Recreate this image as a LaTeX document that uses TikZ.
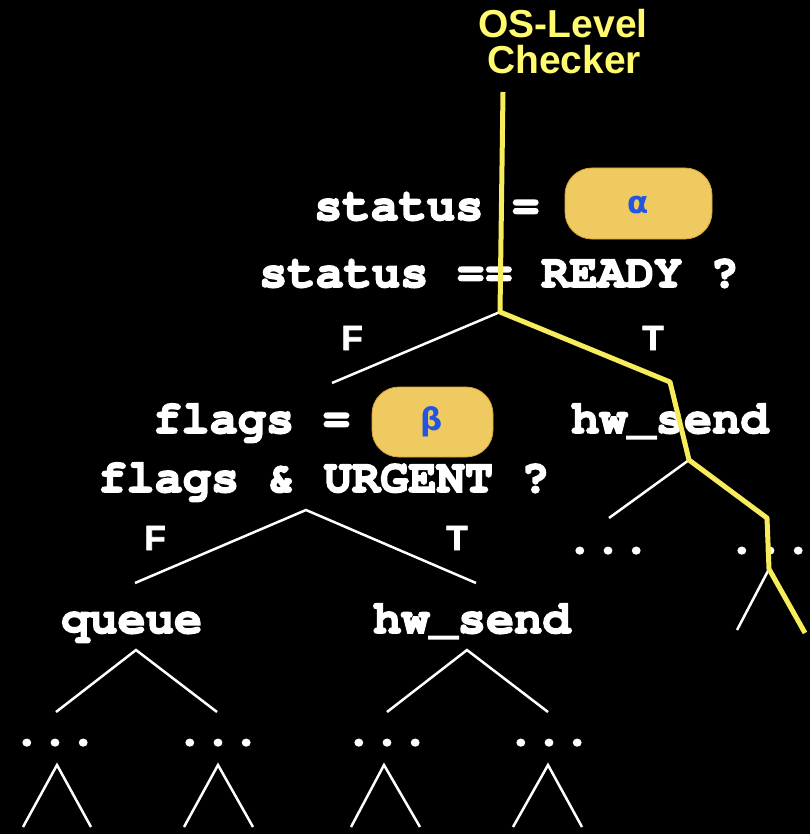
\documentclass[tikz,border=0pt]{standalone}
\usepackage[T1]{fontenc}
\usepackage{fontspec}
\newfontfamily\labfont{Liberation Sans}
\newfontfamily\greekfont{DejaVu Sans}
\newcommand\codefont{\fontencoding{T1}\fontfamily{pcr}\fontseries{b}\fontshape{n}\fontsize{47}{47}\selectfont}
\newcommand\heavy[2][1.6]{\special{pdf:literal direct 2 Tr #1 w}#2\special{pdf:literal direct 0 Tr}}
\definecolor{pillgold}{RGB}{238,202,96}
\definecolor{pilledge}{RGB}{215,165,55}
\definecolor{greekblue}{RGB}{35,85,225}
\definecolor{chkyellow}{RGB}{246,236,92}
\definecolor{chktext}{RGB}{255,250,110}
\tikzset{
  code/.style={text=white, font=\codefont, inner sep=0pt, anchor=base west},
  dotsnode/.style={text=white, font=\codefont, inner sep=0pt, anchor=base},
  lab/.style={text=white, font=\labfont\bfseries\fontsize{35}{35}\selectfont, inner sep=0pt},
  chk/.style={text=chktext, font=\labfont\bfseries\fontsize{39}{39}\selectfont, inner sep=0pt, anchor=base},
  pill/.style={fill=pillgold, draw=pilledge, line width=0.8pt, rounded corners=27pt, inner sep=0pt},
  greek/.style={text=greekblue, font=\greekfont\bfseries\fontsize{31}{31}\selectfont, inner sep=0pt},
  wline/.style={draw=white, line width=2.5pt},
  yline/.style={draw=chkyellow, line width=5pt, line join=round},
}
\begin{document}
\begin{tikzpicture}[x=1pt,y=-1pt]
\fill[black] (0,0) rectangle (810,834);
\useasboundingbox (0,0) rectangle (810,834);

% title of checker
\node[chk] (chk1) at (563,38) {OS-Level};
\node[chk] (chk2) at (564,74) {Checker};

% pills
\node[pill, minimum width=147pt, minimum height=71pt] (palpha) at (638.5,203.5) {};
\node[greek] (alpha) at (638,205) {α};
\node[pill, minimum width=121pt, minimum height=70pt] (pbeta) at (432.5,422) {};
\node[greek] (beta) at (432,422) {β};

% code texts
\node[code] (s1) at (314,220) {\heavy{status =}};
\node[code] (s2) at (259,287) {\heavy{status == READY ?}};
\node[code] (f1) at (153,433) {\heavy{flags =}};
\node[code] (f2) at (98,492) {\heavy{flags \& URGENT ?}};
\node[code] (hw1) at (571,433) {\heavy{hw\_send}};
\node[code] (qu) at (61,633) {\heavy{queue}};
\node[code] (hw2) at (373,633) {\heavy{hw\_send}};

% dots
\node[dotsnode] (d1) at (608,553) {\heavy{...}};
\node[dotsnode] (d2) at (770,553) {\heavy{...}};
\node[dotsnode] (d3) at (55,745) {\heavy{...}};
\node[dotsnode] (d4) at (218,745) {\heavy{...}};
\node[dotsnode] (d5) at (387,745) {\heavy{...}};
\node[dotsnode] (d6) at (549,745) {\heavy{...}};

% F / T labels
\node[lab] (F1) at (352,338) {\heavy[0.8]{F}};
\node[lab] (T1) at (653,338) {\heavy[0.8]{T}};
\node[lab] (F2) at (155,538) {\heavy[0.8]{F}};
\node[lab] (T2) at (457,538) {\heavy[0.8]{T}};

% tree coordinates
\coordinate (root) at (500,312);
\coordinate (rootF) at (332,383);
\coordinate (fb) at (306,510);
\coordinate (fbF) at (135,583);
\coordinate (fbT) at (476,583);
\coordinate (hwr) at (689,460);
\coordinate (hwrL) at (609,518);
\coordinate (lr) at (769,569);
\coordinate (lrL) at (737,630);
\coordinate (qa) at (136,650);
\coordinate (qaL) at (56,712);
\coordinate (qaR) at (217,712);
\coordinate (ha) at (467,650);
\coordinate (haL) at (387,712);
\coordinate (haR) at (548,712);
\coordinate (c1) at (57,765);  \coordinate (c1L) at (23,827);  \coordinate (c1R) at (91,827);
\coordinate (c2) at (218,765); \coordinate (c2L) at (184,827); \coordinate (c2R) at (253,827);
\coordinate (c3) at (384,765); \coordinate (c3L) at (351,827); \coordinate (c3R) at (420,827);
\coordinate (c4) at (548,765); \coordinate (c4L) at (513,827); \coordinate (c4R) at (582,827);

% white tree lines
\draw[wline] (root) -- (rootF);
\draw[wline] (fbF) -- (fb) -- (fbT);
\draw[wline] (hwr) -- (hwrL);
\draw[wline] (lr) -- (lrL);
\draw[wline] (qaL) -- (qa) -- (qaR);
\draw[wline] (haL) -- (ha) -- (haR);
\draw[wline] (c1L) -- (c1) -- (c1R);
\draw[wline] (c2L) -- (c2) -- (c2R);
\draw[wline] (c3L) -- (c3) -- (c3R);
\draw[wline] (c4L) -- (c4) -- (c4R);

% checker path
\coordinate (y0) at (503,92);
\coordinate (y2) at (670,382);
\coordinate (y4) at (767,518);
\coordinate (y6) at (805,633);
\draw[yline] (y0) -- (root) -- (y2) -- (hwr) -- (y4) -- (lr) -- (y6);
\end{tikzpicture}
\end{document}
